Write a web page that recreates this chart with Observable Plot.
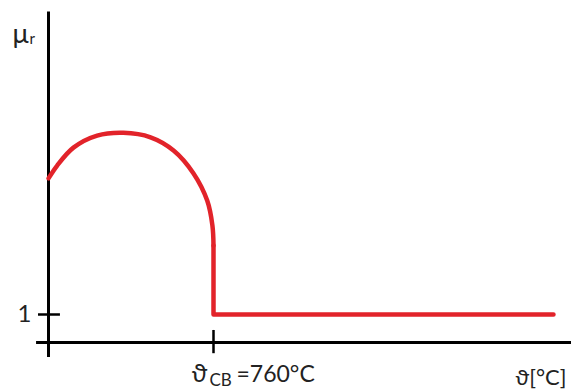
<!DOCTYPE html>
<html>
<head>
<meta charset="utf-8">
<script src="https://cdn.jsdelivr.net/npm/d3@7"></script>
<script src="https://cdn.jsdelivr.net/npm/@observablehq/plot@0.6"></script>
<style>
  html, body { margin: 0; padding: 0; background: #fff; }
  svg { display: block; }
</style>
</head>
<body>
<div id="chart"></div>
<script>
// Temperature (°C) vs relative permeability μr (schematic)
const arcTemp = [0, 40, 115, 224, 345, 470, 576, 668, 731, 755, 760];
const arcMu   = [5.86, 6.32, 6.96, 7.39, 7.49, 7.33, 6.86, 6.04, 5.07, 4.18, 3.46];
const tailTemp = [760, 760, 2326];
const tailMu   = [3.46, 1, 1];
const xTicks = [760];
const yTicks = [1];
const curieLabel = ["ϑ", "CB", "=760°C"];
const xAxisLabel = "ϑ[°C]";
const yAxisLabel = ["μ", "r"];
// axis extents (data units)
const xAxisExtent = [-55, 2409];
const yAxisExtent = [-0.54, 11.8];

const arc = arcTemp.map((t, i) => ({t, mu: arcMu[i]}));
const tail = tailTemp.map((t, i) => ({t, mu: tailMu[i]}));
const red = "#e2232a";
const font = "Lato, 'Open Sans', sans-serif";

const chart = Plot.plot({
  width: 571,
  height: 389,
  margin: 0,
  style: {fontFamily: font, background: "#fff", color: "#222"},
  x: {domain: [0, 760], range: [48, 213], axis: null},
  y: {domain: [0, 1], range: [342, 314], axis: null},
  marks: [
    // axes
    Plot.ruleY([0], {x1: xAxisExtent[0], x2: xAxisExtent[1], stroke: "#000", strokeWidth: 3}),
    Plot.ruleX([0], {y1: yAxisExtent[0], y2: yAxisExtent[1], stroke: "#000", strokeWidth: 3}),
    // ticks
    Plot.ruleX(xTicks, {x: d => d, y1: -0.4, y2: 0.43, stroke: "#000", strokeWidth: 2.5}),
    Plot.ruleY(yTicks, {y: d => d, x1: -46, x2: 55, stroke: "#000", strokeWidth: 2.5}),
    // curve
    Plot.line(arc, {x: "t", y: "mu", curve: "catmull-rom", stroke: red, strokeWidth: 4.5, strokeLinecap: "round"}),
    Plot.line(tail, {x: "t", y: "mu", stroke: red, strokeWidth: 4.5, strokeLinecap: "round", strokeLinejoin: "round"}),
    // tick labels
    Plot.text(yTicks, {x: 0, y: d => d, text: d => String(d), dx: -17, textAnchor: "end", fontSize: 24, fill: "#222"}),
    Plot.text(xTicks, {x: d => d, y: 0, text: () => curieLabel[0], dx: -22, dy: 31, textAnchor: "start", fontSize: 25, fill: "#222"}),
    Plot.text(xTicks, {x: d => d, y: 0, text: () => curieLabel[1], dx: -4, dy: 38, textAnchor: "start", fontSize: 17, fill: "#222"}),
    Plot.text(xTicks, {x: d => d, y: 0, text: () => curieLabel[2], dx: 23, dy: 32, textAnchor: "start", fontSize: 23, fill: "#222"}),
    // axis labels
    Plot.text([xAxisLabel], {x: xAxisExtent[1], y: 0, text: d => d, dx: -5, dy: 35, textAnchor: "end", fontSize: 22, fill: "#222"}),
    Plot.text([yAxisLabel[0]], {x: 0, y: yAxisExtent[1], text: d => d, dx: -36, dy: 22, textAnchor: "start", fontSize: 27, fill: "#222"}),
    Plot.text([yAxisLabel[1]], {x: 0, y: yAxisExtent[1], text: d => d, dx: -19, dy: 27, textAnchor: "start", fontSize: 15, fill: "#222"})
  ]
});
document.getElementById("chart").appendChild(chart);
</script>
</body>
</html>
